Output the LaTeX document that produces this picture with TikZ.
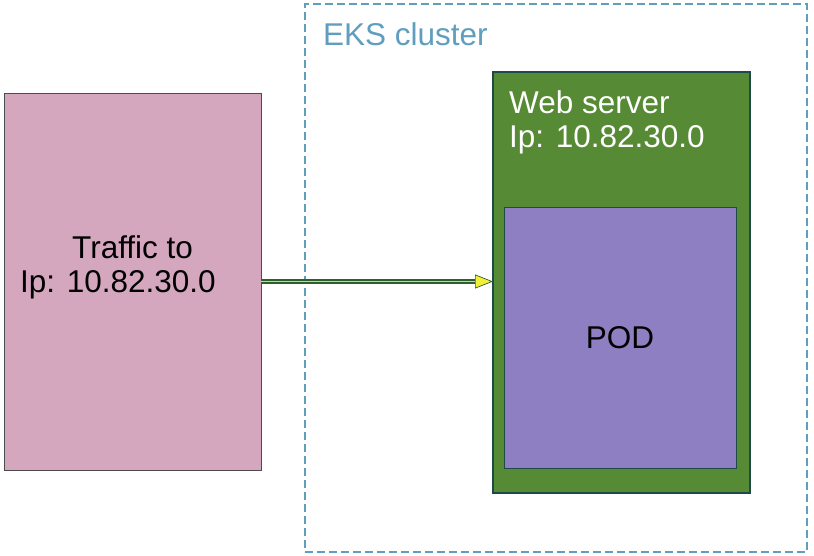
\documentclass[tikz,border=0pt]{standalone}
\usepackage{fontspec}
\setmainfont{Liberation Sans}
\usetikzlibrary{arrows.meta}

\definecolor{trafficpink}{HTML}{D4A7BF}
\definecolor{webgreen}{HTML}{578A34}
\definecolor{webedge}{HTML}{1F4A4A}
\definecolor{podpurple}{HTML}{8E7FC2}
\definecolor{clusterblue}{HTML}{5F9EBF}
\definecolor{arrowgreen}{HTML}{2F5F2A}
\definecolor{arrowlight}{HTML}{C2D890}
\definecolor{arrowyellow}{HTML}{F2EE3A}

\begin{document}
\begin{tikzpicture}[x=1pt,y=-1pt,
        box/.style={draw, inner sep=0pt, outer sep=0pt},
        big/.style={font=\fontsize{31.5}{34}\selectfont},
        flow/.style={draw=arrowgreen, line width=1.3pt, double=arrowlight, double distance=1.6pt,
            -{Triangle[length=18pt, width=14pt, fill=arrowyellow, line width=0.7pt]}}]
        \useasboundingbox (0,0) rectangle (814,556);

        % cluster
        \node[box, draw=clusterblue, line width=1.4pt, dash pattern=on 8pt off 4pt,
            minimum width=502pt, minimum height=548pt] (cluster) at (556,278) {};
        \node[anchor=base west, inner sep=0pt, text=clusterblue, font=\fontsize{31.5}{34}\selectfont]
            (clusterlabel) at (323,46) {EKS cluster};

        % traffic
        \node[box, draw=black!70, line width=0.6pt, fill=trafficpink,
            minimum width=257pt, minimum height=377pt] (traffic) at (132.5,281.5) {};
        \node[big, anchor=north west, inner sep=0pt, align=left] (trafficlabel) at (20,235)
            {\hspace*{52pt}Traffic to\\Ip: 10.82.30.0};

        % web server
        \node[box, draw=webedge, line width=1.4pt, fill=webgreen,
            minimum width=257pt, minimum height=421pt] (web) at (621.5,282.5) {};
        \node[big, anchor=north west, inner sep=0pt, align=left, text=white] (weblabel) at (509,90)
            {Web server\\Ip: 10.82.30.0};

        % pod
        \node[box, draw=webedge, line width=0.6pt, fill=podpurple, big,
            minimum width=232pt, minimum height=261pt] (pod) at (620,337.5) {POD};

        \draw[flow] (traffic.east) -- (traffic.east -| web.west);
    \end{tikzpicture}
\end{document}
